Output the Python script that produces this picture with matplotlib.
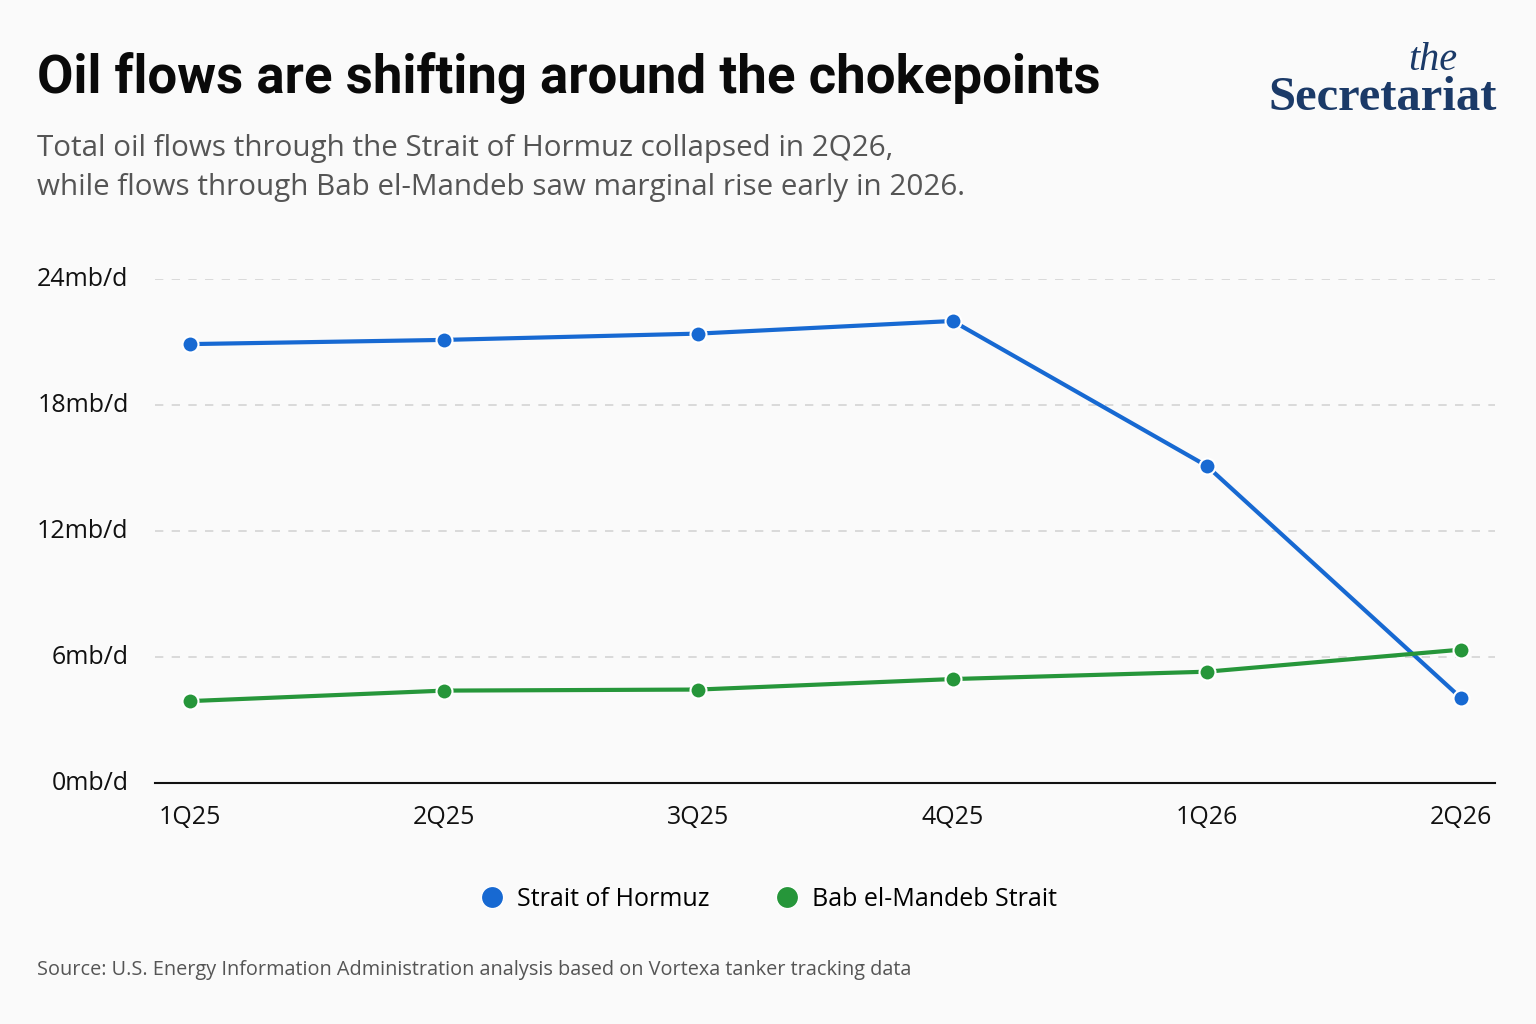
import numpy as np
import matplotlib.pyplot as plt
from matplotlib.lines import Line2D

quarters = ["1Q25", "2Q25", "3Q25", "4Q25", "1Q26", "2Q26"]
hormuz = [20.9, 21.1, 21.4, 22.0, 15.1, 4.05]
bab_el_mandeb = [3.9, 4.4, 4.45, 4.95, 5.3, 6.35]
y_ticks = [0, 6, 12, 18, 24]
y_labels = ["0mb/d", "6mb/d", "12mb/d", "18mb/d", "24mb/d"]

BLUE = "#1769d2"
GREEN = "#26963a"
BG = "#fafafa"

plt.rcParams['font.family'] = ['Open Sans', 'DejaVu Sans']

fig = plt.figure(figsize=(15.36, 10.24), dpi=100, facecolor=BG)
ax = fig.add_axes([155 / 1536, 1 - 783 / 1024, 1340 / 1536, 504 / 1024])
ax.set_facecolor(BG)

x = np.arange(len(quarters))
ax.plot(x, hormuz, color=BLUE, lw=3, marker='o', ms=11.5, mfc=BLUE,
        mec='white', mew=1.5, zorder=3, clip_on=False)
ax.plot(x, bab_el_mandeb, color=GREEN, lw=3, marker='o', ms=11.5, mfc=GREEN,
        mec='white', mew=1.5, zorder=3, clip_on=False)

ax.set_xlim(-0.138, 5.134)
ax.set_ylim(0, 24)
ax.set_yticks(y_ticks)
ax.set_yticklabels(y_labels)
ax.set_xticks(x)
ax.set_xticklabels(quarters)
ax.tick_params(axis='y', length=0, pad=19, labelsize=18, labelcolor='#111111')
ax.tick_params(axis='x', length=0, pad=16, labelsize=18, labelcolor='#111111')
for t in ax.get_yticklabels():
    t.set_verticalalignment('center')

# dashed gridlines
for v in y_ticks[1:]:
    ax.axhline(v, color='#d4d4d4', lw=1.2, ls=(0, (5, 5)), zorder=1)
for s in ['top', 'right', 'left']:
    ax.spines[s].set_visible(False)
ax.spines['bottom'].set_color('#111111')
ax.spines['bottom'].set_linewidth(1.5)

# titles
fig.text(37 / 1536, 1 - 78 / 1024, "Oil flows are shifting around the chokepoints",
         fontsize=38, fontweight='bold', family=['Roboto', 'DejaVu Sans'],
         color='#0a0a0a', va='center', ha='left')
fig.text(37 / 1536, 1 - 168 / 1024,
         "Total oil flows through the Strait of Hormuz collapsed in 2Q26,\n"
         "while flows through Bab el-Mandeb saw marginal rise early in 2026.",
         fontsize=21.3, color='#555555', va='center', ha='left', linespacing=1.42)

# logo
fig.text(1433 / 1536, 1 - 70 / 1024, "the", fontsize=29, style='italic',
         family=['Liberation Serif', 'DejaVu Serif'], color='#1b3a68',
         ha='center', va='baseline')
fig.text(1383 / 1536, 1 - 110 / 1024, "Secretariat", fontsize=35, fontweight='bold',
         family=['Liberation Serif', 'DejaVu Serif'], color='#1b3a68',
         ha='center', va='baseline')

# legend
handles = [Line2D([], [], ls='none', marker='o', ms=16, mfc=BLUE, mec='white', mew=1),
           Line2D([], [], ls='none', marker='o', ms=16, mfc=GREEN, mec='white', mew=1)]
fig.legend(handles, ["Strait of Hormuz", "Bab el-Mandeb Strait"],
           loc='center', bbox_to_anchor=(768 / 1536, 1 - 899 / 1024),
           ncol=2, frameon=False, fontsize=18, handlelength=1.0,
           handletextpad=0.5, columnspacing=2.6)

fig.text(37 / 1536, 1 - 970 / 1024,
         "Source: U.S. Energy Information Administration analysis based on Vortexa tanker tracking data",
         fontsize=14.3, color='#555555', va='center', ha='left')

fig.savefig("out.png", dpi=100, facecolor=BG)
